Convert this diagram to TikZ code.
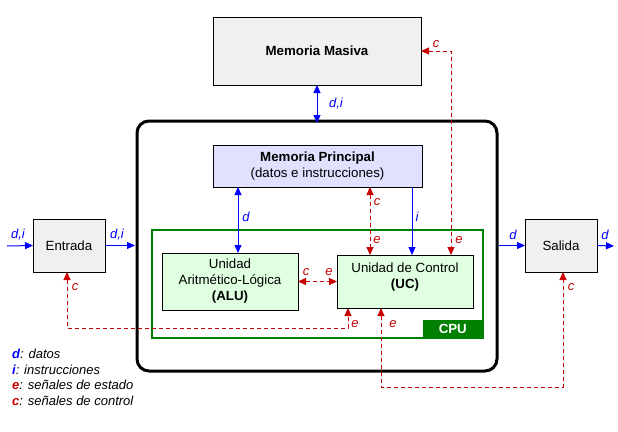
\documentclass[tikz,border=0pt]{standalone}
\usepackage{fontspec}
\setmainfont{Liberation Sans}
\usetikzlibrary{arrows.meta}
\definecolor{cblue}{HTML}{0000FF}
\definecolor{cred}{HTML}{C80000}
\definecolor{cgreen}{HTML}{008000}
\definecolor{cgray}{HTML}{F0F0F0}
\definecolor{clav}{HTML}{E0E0FF}
\definecolor{clgreen}{HTML}{E0FFE0}
\tikzset{
  box/.style={draw=black,line width=1pt,inner sep=0pt,outer sep=0pt,align=center,
    font=\fontsize{13.3}{16}\selectfont},
  tipa/.tip={Triangle[length=8pt,width=7pt]},
  dline/.style={cblue,line width=1pt},
  cline/.style={cred,line width=1pt,dash pattern=on 4pt off 3pt},
  lbl/.style={font=\fontsize{13}{14}\itshape,inner sep=0pt},
  lblb/.style={lbl,cblue},
  lblr/.style={lbl,cred},
  leg/.style={anchor=west,inner sep=0pt,font=\fontsize{13}{14}\selectfont\itshape}
}
\begin{document}
\begin{tikzpicture}[x=1pt,y=-1pt]
\useasboundingbox (0,0) rectangle (618,431);
\fill[white] (0,0) rectangle (618,431);
% boxes
\node[box,fill=cgray,minimum width=208pt,minimum height=68pt,font=\fontsize{13.3}{16}\selectfont\bfseries] (mm) at (317,51) {Memoria Masiva};
\node[draw=black,line width=3pt,rounded corners=12pt,minimum width=360pt,minimum height=250pt,inner sep=0pt,outer sep=0pt] (big) at (317,246) {};
\node[box,fill=clav,minimum width=209pt,minimum height=42pt] (mp) at (317.5,166) {\textbf{Memoria Principal}\\(datos e instrucciones)};
\node[draw=cgreen,line width=2pt,minimum width=331pt,minimum height=108pt,inner sep=0pt,outer sep=0pt] (cpu) at (317.5,284) {};
\node[fill=cgreen,text=white,minimum width=60pt,minimum height=18pt,inner sep=0pt,anchor=south east,font=\fontsize{13.3}{16}\selectfont\bfseries] (cpulbl) at (cpu.south east) {CPU};
\node[box,fill=clgreen,minimum width=136pt,minimum height=57pt] (alu) at (230,281.5) {Unidad\\Aritmético-Lógica\\\textbf{(ALU)}};
\node[box,fill=clgreen,minimum width=136pt,minimum height=53pt] (uc) at (405,281.5) {Unidad de Control\\\textbf{(UC)}\\[-5pt]\mbox{}};
\node[box,fill=cgray,minimum width=72pt,minimum height=53pt] (ent) at (69,245.5) {Entrada};
\node[box,fill=cgray,minimum width=72pt,minimum height=53pt] (sal) at (561,245.5) {Salida};
% free ends
\coordinate (in0) at (7,246);
\coordinate (out0) at (614,246);
\coordinate (r1) at (67,328);
\coordinate (r2) at (563,387);
% data connectors
\draw[dline,{tipa}-{tipa}] (mm.south) -- ([yshift=-2pt]big.north);
\draw[dline,{tipa}-{tipa}] ([xshift=8pt]alu.north |- mp.south) -- ([xshift=8pt]alu.north);
\draw[dline,-{tipa}] ([xshift=7pt]uc.north |- mp.south) -- ([xshift=7pt]uc.north);
\draw[dline,-{tipa}] (in0) -- (ent.west);
\draw[dline,-{tipa}] (ent.east) -- ([xshift=-2pt]ent.east -| big.west);
\draw[dline,-{tipa}] ([xshift=2pt]sal.west -| big.east) -- (sal.west);
\draw[dline,-{tipa}] (sal.east) -- (out0);
% control connectors
\draw[cline,{tipa}-{tipa}] ([xshift=-35pt]uc.north |- mp.south) -- ([xshift=-35pt]uc.north);
\draw[cline,{tipa}-{tipa}] (mm.east) -| ([xshift=46pt]uc.north);
\draw[cline,{tipa}-{tipa}] (alu.east) -- (uc.west);
\draw[cline,{tipa}-{tipa}] ([xshift=-2pt]ent.south) -- (r1) -| ([xshift=-57pt]uc.south);
\draw[cline,{tipa}-{tipa}] ([xshift=-24pt]uc.south) |- (r2) -- ([xshift=2pt]sal.south);
% labels
\node[lblb] (l1) at (336,104) {d,i};
\node[lblb] (l2) at (246,217) {d};
\node[lblb] (l3) at (417,217) {i};
\node[lblr] (l4) at (377,202) {c};
\node[lblr] (l5) at (377,240) {e};
\node[lblr] (l6) at (459,240) {e};
\node[lblr] (l7) at (436,44) {c};
\node[lblr] (l8) at (306,272) {c};
\node[lblr] (l9) at (329,272) {e};
\node[lblr] (l10) at (355,324) {e};
\node[lblr] (l11) at (393,324) {e};
\node[lblb] (l12) at (18,235) {d,i};
\node[lblb] (l13) at (117,235) {d,i};
\node[lblr] (l14) at (75,287) {c};
\node[lblb] (l15) at (513,235) {d};
\node[lblb] (l16) at (605,235) {d};
\node[lblr] (l17) at (571,287) {c};
% legend
\node[leg] (g1) at (12,354) {\textcolor{cblue}{\bfseries d}: datos};
\node[leg] (g2) at (12,369.5) {\textcolor{cblue}{\bfseries i}: instrucciones};
\node[leg] (g3) at (12,385) {\textcolor{cred}{\bfseries e}: señales de estado};
\node[leg] (g4) at (12,400.5) {\textcolor{cred}{\bfseries c}: señales de control};
\end{tikzpicture}
\end{document}
